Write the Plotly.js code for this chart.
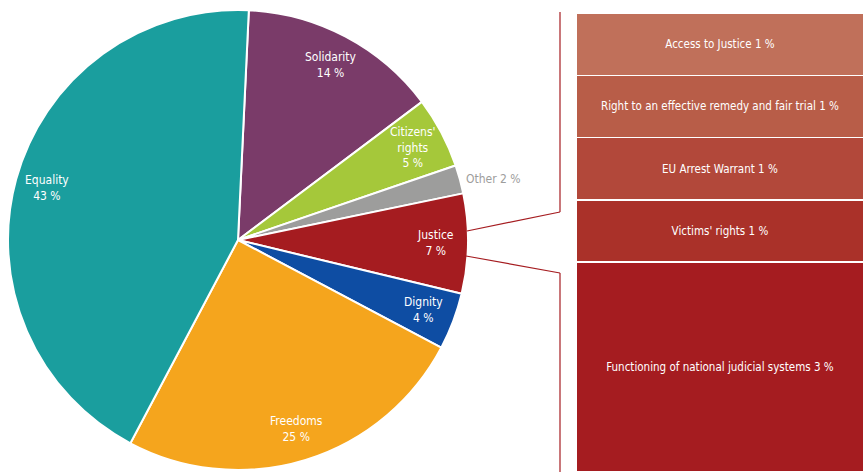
<!DOCTYPE html>
<html><head><meta charset="utf-8">
<script src="https://cdn.plot.ly/plotly-3.0.1.min.js"></script>
<style>html,body{margin:0;padding:0;background:#fff}#chart{width:864px;height:472px}</style>
</head><body><div id="chart"></div>
<script>
// Pie data (clockwise from top)
const pieLabels = ["Solidarity", "Citizens'<br>rights", "Other", "Justice", "Dignity", "Freedoms", "Equality"];
const pieValues = [14, 5, 2, 7, 4, 25, 43];
const pieColors = ["#7A3B69", "#A5C83A", "#9D9D9C", "#A51C20", "#0E4DA3", "#F5A51D", "#1A9E9E"];

// Justice breakdown (bottom to top)
const subLabels = ["Functioning of national judicial systems 3 %", "Victims' rights 1 %", "EU Arrest Warrant 1 %", "Right to an effective remedy and fair trial 1 %", "Access to Justice 1 %"];
const subValues = [3.37, 1, 1, 1, 1];
const subColors = ["#A51C20", "#AA3129", "#B2483A", "#B85D48", "#C0705A"];

const W = 864, H = 472;
const FONT = "DejaVu Sans Condensed, Liberation Sans Narrow, sans-serif";
const cx = 238, cy = 240, R = 230, rot = 2.7;

const traces = [{
  type: 'pie', labels: pieLabels, values: pieValues, sort: false, direction: 'clockwise',
  rotation: rot, textinfo: 'none', hoverinfo: 'label+percent',
  marker: {colors: pieColors, line: {color: '#ffffff', width: 2}},
  domain: {x: [(cx - R) / W, (cx + R) / W], y: [1 - (cy + R) / H, 1 - (cy - R) / H]},
  showlegend: false
}];
subLabels.forEach((lab, i) => {
  traces.push({
    type: 'bar', x: ['J'], y: [subValues[i]], name: lab, text: [lab],
    textposition: 'inside', insidetextanchor: 'middle', textangle: 0,
    textfont: {color: '#ffffff', size: 11.5, family: FONT},
    marker: {color: subColors[i], line: {color: '#ffffff', width: 1.5}},
    xaxis: 'x', yaxis: 'y', showlegend: false, hoverinfo: 'text'
  });
});

// Pie label annotations computed from slice angles
const total = pieValues.reduce((a, b) => a + b, 0);
const annotations = [];
let acc = rot;
pieValues.forEach((v, i) => {
  const span = v / total * 360;
  const mid = (acc + span / 2) * Math.PI / 180;
  acc += span;
  const isOther = pieLabels[i] === 'Other';
  const rf = isOther ? 1.0 : 0.86;
  const px = cx + R * rf * Math.sin(mid) + (isOther ? 4 : 0);
  const py = cy - R * rf * Math.cos(mid);
  const pct = Math.round(v / total * 100) + ' %';
  annotations.push({
    xref: 'paper', yref: 'paper', x: px / W, y: 1 - py / H,
    text: isOther ? pieLabels[i] + ' ' + pct : pieLabels[i] + '<br>' + pct,
    showarrow: false, xanchor: isOther ? 'left' : 'center', yanchor: 'middle',
    font: {family: FONT, size: 12, color: isOther ? '#9D9D9C' : '#ffffff'}
  });
});

function P(x, y) { return [x / W, 1 - y / H]; }
const lc = '#A51C20';
const shapes = [
  [[467, 231], [560, 212]], [[560, 212], [560, 12]],
  [[466, 256], [560, 273]], [[560, 273], [560, 472]]
].map(s => {
  const a = P(s[0][0], s[0][1]), b = P(s[1][0], s[1][1]);
  return {type: 'line', xref: 'paper', yref: 'paper', x0: a[0], y0: a[1], x1: b[0], y1: b[1], line: {color: lc, width: 1.2}};
});

const layout = {
  width: W, height: H, margin: {l: 0, r: 0, t: 0, b: 0},
  paper_bgcolor: '#ffffff', plot_bgcolor: '#ffffff',
  barmode: 'stack', bargap: 0,
  xaxis: {domain: [576 / W, 1], visible: false, fixedrange: true},
  yaxis: {domain: [0, 1 - 13 / H], visible: false, range: [0, subValues.reduce((a, b) => a + b, 0)], fixedrange: true},
  annotations: annotations, shapes: shapes,
  font: {family: FONT}
};
Plotly.newPlot('chart', traces, layout, {displayModeBar: false, staticPlot: true});
</script></body></html>
